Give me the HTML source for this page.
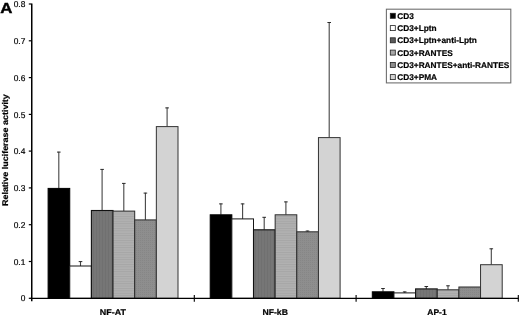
<!DOCTYPE html>
<html><head><meta charset="utf-8"><title>Figure A</title>
<style>
html,body{margin:0;padding:0;background:#fff;}
body{width:520px;height:316px;overflow:hidden;}
svg{display:block;font-family:"Liberation Sans",Arial,sans-serif;fill:#000;text-rendering:geometricPrecision;}
</style></head><body>
<svg width="520" height="316" viewBox="0 0 520 316">
<defs>
<pattern id="p3" width="3" height="4" patternUnits="userSpaceOnUse"><rect width="3" height="4" fill="#767676"/><rect width="1" height="4" fill="#707070"/></pattern>
<pattern id="p4" width="4" height="2.4" patternUnits="userSpaceOnUse"><rect width="4" height="2.4" fill="#b1b1b1"/><rect width="4" height="0.9" fill="#a6a6a6"/></pattern>
<pattern id="p5" width="2" height="2" patternUnits="userSpaceOnUse"><rect width="2" height="2" fill="#8e8e8e"/><rect width="1" height="1" fill="#868686"/></pattern>
</defs>
<rect width="520" height="316" fill="#fff"/>
<text transform="translate(0.3,12.6) scale(1.16,1)" font-size="14.5" font-weight="bold" stroke="#000" stroke-width="0.4">A</text>
<text transform="translate(8.3,150.1) rotate(-90) scale(1.078,1)" text-anchor="middle" font-size="8.3" font-weight="bold" stroke="#000" stroke-width="0.2">Relative luciferase activity</text>
<path d="M28.8 298.3H31.4" stroke="#000" stroke-width="1.2"/>
<text x="25.3" y="301.4" text-anchor="end" font-size="8.4" stroke="#000" stroke-width="0.2">0</text>
<path d="M28.8 261.5H31.4" stroke="#000" stroke-width="1.2"/>
<text x="25.3" y="264.6" text-anchor="end" font-size="8.4" stroke="#000" stroke-width="0.2">0.1</text>
<path d="M28.8 224.7H31.4" stroke="#000" stroke-width="1.2"/>
<text x="25.3" y="227.8" text-anchor="end" font-size="8.4" stroke="#000" stroke-width="0.2">0.2</text>
<path d="M28.8 187.9H31.4" stroke="#000" stroke-width="1.2"/>
<text x="25.3" y="191.0" text-anchor="end" font-size="8.4" stroke="#000" stroke-width="0.2">0.3</text>
<path d="M28.8 151.1H31.4" stroke="#000" stroke-width="1.2"/>
<text x="25.3" y="154.2" text-anchor="end" font-size="8.4" stroke="#000" stroke-width="0.2">0.4</text>
<path d="M28.8 114.4H31.4" stroke="#000" stroke-width="1.2"/>
<text x="25.3" y="117.5" text-anchor="end" font-size="8.4" stroke="#000" stroke-width="0.2">0.5</text>
<path d="M28.8 77.6H31.4" stroke="#000" stroke-width="1.2"/>
<text x="25.3" y="80.7" text-anchor="end" font-size="8.4" stroke="#000" stroke-width="0.2">0.6</text>
<path d="M28.8 40.8H31.4" stroke="#000" stroke-width="1.2"/>
<text x="25.3" y="43.9" text-anchor="end" font-size="8.4" stroke="#000" stroke-width="0.2">0.7</text>
<path d="M28.8 4.0H31.4" stroke="#000" stroke-width="1.2"/>
<text x="25.3" y="7.1" text-anchor="end" font-size="8.4" stroke="#000" stroke-width="0.2">0.8</text>
<path d="M58.8 188.4V151.8" stroke="#444" stroke-width="1.1" fill="none"/><path d="M57.0 152.1h3.6" stroke="#2a2a2a" stroke-width="1" fill="none"/>
<rect x="48.10" y="188.4" width="21.65" height="109.9" fill="#000" stroke="#000" stroke-width="1"/>
<path d="M80.5 266.0V261.3" stroke="#444" stroke-width="1.1" fill="none"/><path d="M78.7 261.6h3.6" stroke="#2a2a2a" stroke-width="1" fill="none"/>
<rect x="69.75" y="266.0" width="21.65" height="32.3" fill="#fff" stroke="#151515" stroke-width="1"/>
<path d="M102.1 210.5V169.1" stroke="#444" stroke-width="1.1" fill="none"/><path d="M100.3 169.4h3.6" stroke="#2a2a2a" stroke-width="1" fill="none"/>
<rect x="91.40" y="210.5" width="21.65" height="87.8" fill="url(#p3)" stroke="#111" stroke-width="1.1"/>
<path d="M123.8 211.1V183.1" stroke="#444" stroke-width="1.1" fill="none"/><path d="M122.0 183.4h3.6" stroke="#2a2a2a" stroke-width="1" fill="none"/>
<rect x="113.05" y="211.1" width="21.65" height="87.2" fill="url(#p4)" stroke="#2c2c2c" stroke-width="1"/>
<path d="M145.4 219.9V192.8" stroke="#444" stroke-width="1.1" fill="none"/><path d="M143.6 193.1h3.6" stroke="#2a2a2a" stroke-width="1" fill="none"/>
<rect x="134.70" y="219.9" width="21.65" height="78.4" fill="url(#p5)" stroke="#2c2c2c" stroke-width="1"/>
<path d="M167.1 126.6V107.6" stroke="#444" stroke-width="1.1" fill="none"/><path d="M165.3 107.9h3.6" stroke="#2a2a2a" stroke-width="1" fill="none"/>
<rect x="156.35" y="126.6" width="21.65" height="171.7" fill="#d3d3d3" stroke="#333" stroke-width="1"/>
<path d="M220.9 214.8V203.6" stroke="#444" stroke-width="1.1" fill="none"/><path d="M219.1 203.9h3.6" stroke="#2a2a2a" stroke-width="1" fill="none"/>
<rect x="210.20" y="214.8" width="21.65" height="83.5" fill="#000" stroke="#000" stroke-width="1"/>
<path d="M242.6 218.9V203.6" stroke="#444" stroke-width="1.1" fill="none"/><path d="M240.8 203.9h3.6" stroke="#2a2a2a" stroke-width="1" fill="none"/>
<rect x="231.85" y="218.9" width="21.65" height="79.4" fill="#fff" stroke="#151515" stroke-width="1"/>
<path d="M264.2 229.8V217.0" stroke="#444" stroke-width="1.1" fill="none"/><path d="M262.4 217.3h3.6" stroke="#2a2a2a" stroke-width="1" fill="none"/>
<rect x="253.50" y="229.8" width="21.65" height="68.5" fill="url(#p3)" stroke="#111" stroke-width="1.1"/>
<path d="M285.9 214.8V201.6" stroke="#444" stroke-width="1.1" fill="none"/><path d="M284.1 201.9h3.6" stroke="#2a2a2a" stroke-width="1" fill="none"/>
<rect x="275.15" y="214.8" width="21.65" height="83.5" fill="url(#p4)" stroke="#2c2c2c" stroke-width="1"/>
<path d="M307.5 231.8V230.7" stroke="#444" stroke-width="1.1" fill="none"/><path d="M305.7 231.0h3.6" stroke="#2a2a2a" stroke-width="1" fill="none"/>
<rect x="296.80" y="231.8" width="21.65" height="66.5" fill="url(#p5)" stroke="#2c2c2c" stroke-width="1"/>
<path d="M329.2 137.6V22.2" stroke="#444" stroke-width="1.1" fill="none"/><path d="M327.4 22.5h3.6" stroke="#2a2a2a" stroke-width="1" fill="none"/>
<rect x="318.45" y="137.6" width="21.65" height="160.7" fill="#d3d3d3" stroke="#333" stroke-width="1"/>
<path d="M383.0 291.8V288.2" stroke="#444" stroke-width="1.1" fill="none"/><path d="M381.2 288.5h3.6" stroke="#2a2a2a" stroke-width="1" fill="none"/>
<rect x="372.30" y="291.8" width="21.65" height="6.5" fill="#000" stroke="#000" stroke-width="1"/>
<path d="M404.7 292.9V291.6" stroke="#444" stroke-width="1.1" fill="none"/><path d="M402.9 291.9h3.6" stroke="#2a2a2a" stroke-width="1" fill="none"/>
<rect x="393.95" y="292.9" width="21.65" height="5.4" fill="#fff" stroke="#151515" stroke-width="1"/>
<path d="M426.3 288.9V286.2" stroke="#444" stroke-width="1.1" fill="none"/><path d="M424.5 286.5h3.6" stroke="#2a2a2a" stroke-width="1" fill="none"/>
<rect x="415.60" y="288.9" width="21.65" height="9.4" fill="url(#p3)" stroke="#111" stroke-width="1.1"/>
<path d="M448.0 289.8V285.5" stroke="#444" stroke-width="1.1" fill="none"/><path d="M446.2 285.8h3.6" stroke="#2a2a2a" stroke-width="1" fill="none"/>
<rect x="437.25" y="289.8" width="21.65" height="8.5" fill="url(#p4)" stroke="#2c2c2c" stroke-width="1"/>
<rect x="458.90" y="287.0" width="21.65" height="11.3" fill="url(#p5)" stroke="#2c2c2c" stroke-width="1"/>
<path d="M491.3 264.7V248.5" stroke="#444" stroke-width="1.1" fill="none"/><path d="M489.5 248.8h3.6" stroke="#2a2a2a" stroke-width="1" fill="none"/>
<rect x="480.55" y="264.7" width="21.65" height="33.6" fill="#d3d3d3" stroke="#333" stroke-width="1"/>
<path d="M31.75 3.4V301.2" stroke="#000" stroke-width="1.5"/>
<path d="M30.6 298.3H518.6" stroke="#000" stroke-width="1.3"/>
<path d="M194.3 294.9V301.8M356.1 294.9V301.8M518.3 294.9V301.8" stroke="#000" stroke-width="1.1"/>
<text transform="translate(112.85,314.8) scale(1.075,1)" text-anchor="middle" font-size="8.3" font-weight="bold" stroke="#000" stroke-width="0.22">NF-AT</text>
<text transform="translate(275.2,314.8) scale(1.04,1)" text-anchor="middle" font-size="8.3" font-weight="bold" stroke="#000" stroke-width="0.22">NF-kB</text>
<text transform="translate(437,314.8) scale(1.02,1)" text-anchor="middle" font-size="8.3" font-weight="bold" stroke="#000" stroke-width="0.22">AP-1</text>
<rect x="386.4" y="9.2" width="124.4" height="73.7" fill="#fff" stroke="#707070" stroke-width="1.1"/>
<rect x="390.3" y="13.3" width="5" height="5" fill="#000" stroke="#222" stroke-width="0.8"/>
<text x="397.2" y="18.7" font-size="8.3" font-weight="bold" stroke="#000" stroke-width="0.2">CD3</text>
<rect x="390.3" y="25.6" width="5" height="5" fill="#fff" stroke="#222" stroke-width="0.8"/>
<text x="397.2" y="31.0" font-size="8.3" font-weight="bold" stroke="#000" stroke-width="0.2">CD3+Lptn</text>
<rect x="390.3" y="37.8" width="5" height="5" fill="#5a5a5a" stroke="#222" stroke-width="0.8"/>
<text x="397.2" y="43.2" font-size="8.3" font-weight="bold" stroke="#000" stroke-width="0.2">CD3+Lptn+anti-Lptn</text>
<rect x="390.3" y="50.1" width="5" height="5" fill="#a8a8a8" stroke="#222" stroke-width="0.8"/>
<text x="397.2" y="55.5" font-size="8.3" font-weight="bold" stroke="#000" stroke-width="0.2">CD3+RANTES</text>
<rect x="390.3" y="62.4" width="5" height="5" fill="#8e8e8e" stroke="#222" stroke-width="0.8"/>
<text x="397.2" y="67.8" font-size="8.3" font-weight="bold" stroke="#000" stroke-width="0.2">CD3+RANTES+anti-RANTES</text>
<rect x="390.3" y="74.6" width="5" height="5" fill="#d2d2d2" stroke="#222" stroke-width="0.8"/>
<text x="397.2" y="80.0" font-size="8.3" font-weight="bold" stroke="#000" stroke-width="0.2">CD3+PMA</text>
</svg>
</body></html>
